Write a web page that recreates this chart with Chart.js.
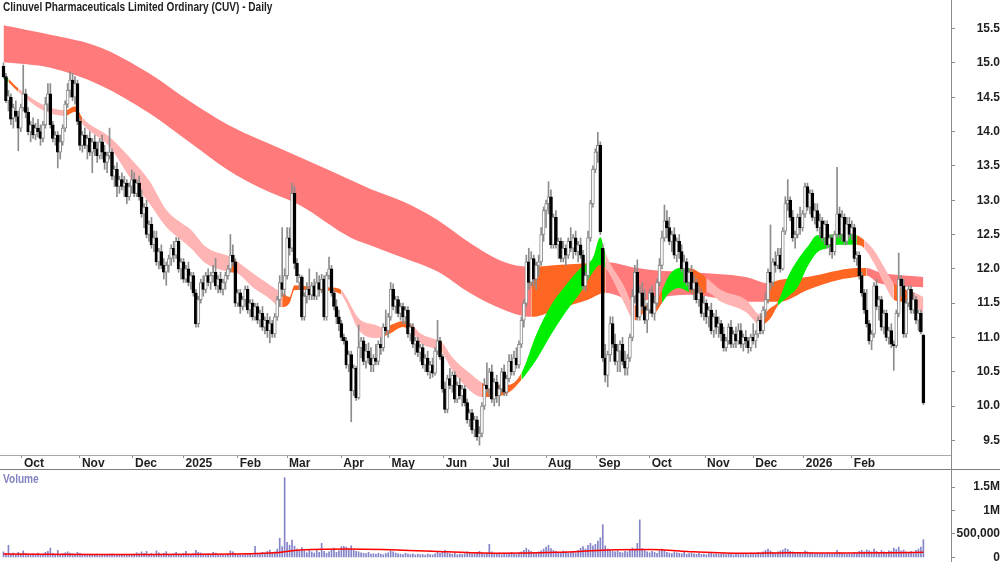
<!DOCTYPE html>
<html>
<head>
<meta charset="utf-8">
<script src="https://cdn.jsdelivr.net/npm/chart.js@4.4.1/dist/chart.umd.min.js"></script>
<style>
html, body { margin: 0; padding: 0; background: #fff; }
#wrap { position: relative; width: 1000px; height: 562px; overflow: hidden; font-family: 'Liberation Sans Narrow', 'Liberation Sans', Arial, sans-serif; }
#priceChart { position: absolute; left: 0; top: 0; }
#volChart { position: absolute; left: 0; top: 470px; }
.title { position: absolute; left: 3px; top: 0; font-size: 12px; line-height: 14px; font-weight: bold; color: #222; white-space: nowrap; transform: scaleX(0.84); transform-origin: 0 0; }
.vlabel { position: absolute; left: 3px; top: 472px; font-size: 12px; line-height: 14px; font-weight: bold; color: #8383c3; transform: scaleX(0.84); transform-origin: 0 0; }
.sep { position: absolute; left: 0; top: 469px; width: 1000px; height: 1px; background: #7d7d7d; }
.axisline { position: absolute; left: 951px; top: 0; width: 1px; height: 562px; background: #8c8c8c; }
</style>
</head>
<body>
<div id="wrap">
  <canvas id="priceChart" width="1000" height="470"></canvas>
  <canvas id="volChart" width="1000" height="92"></canvas>
  <div class="sep"></div>
  <div class="axisline"></div>
  <div class="title">Clinuvel Pharmaceuticals Limited Ordinary (CUV) - Daily</div>
  <div class="vlabel">Volume</div>
</div>
<script>
// daily bars, index 0 = first bar on the left
const opens = [
  14.95,14.80,14.45,14.50,14.20,14.30,14.22,14.05,14.35,14.55,
  14.28,14.00,14.10,13.95,14.05,14.00,13.90,14.10,14.40,14.55,
  14.10,13.90,13.95,13.70,13.85,14.05,14.40,14.60,14.75,14.50,
  14.70,14.15,13.80,13.95,13.80,13.90,13.70,13.85,13.75,13.65,
  13.85,13.70,13.55,13.65,13.70,13.35,13.45,13.20,13.30,13.20,
  13.25,13.05,13.20,13.30,13.10,13.25,13.05,12.80,12.90,12.50,
  12.65,12.35,12.45,12.10,12.25,12.05,11.95,12.05,12.15,12.30,
  12.20,12.40,12.00,12.10,11.85,12.00,11.80,11.90,11.65,11.20,
  11.55,11.80,11.70,11.90,11.80,11.90,11.95,11.75,11.85,11.70,
  11.80,11.90,12.00,12.20,12.10,11.50,11.65,11.45,11.55,11.70,
  11.40,11.50,11.30,11.45,11.25,11.35,11.15,11.25,11.10,11.20,
  11.05,11.30,11.55,11.80,11.70,11.90,12.45,12.30,13.10,12.08,
  11.80,11.88,11.30,11.60,11.70,11.62,11.75,11.60,11.80,11.70,
  11.85,11.30,11.90,12.00,11.65,11.45,11.30,11.20,11.00,10.95,
  10.60,10.75,10.22,10.55,10.12,10.85,10.95,10.65,10.80,10.70,
  10.60,10.70,10.65,10.90,10.85,11.15,11.10,11.30,11.70,11.45,
  11.55,11.35,11.45,11.30,11.40,11.05,11.15,10.90,10.95,10.78,
  10.85,10.60,10.70,10.50,10.60,10.48,10.80,10.95,10.72,10.25,
  9.95,10.40,10.30,10.45,10.10,10.30,10.15,10.25,10.05,9.80,
  9.90,9.65,9.80,9.55,9.60,10.00,10.30,10.25,10.50,10.10,
  10.35,10.15,10.25,10.50,10.20,10.40,10.65,10.50,10.70,10.60,
  10.90,11.25,11.50,12.10,11.80,12.15,11.85,12.05,12.10,12.50,
  12.85,12.95,13.05,12.35,12.75,12.35,12.40,12.15,12.30,12.20,
  12.40,12.30,12.45,12.25,12.35,12.20,11.75,11.90,12.45,12.95,
  13.45,13.70,13.80,12.30,10.70,10.45,10.75,11.20,10.90,10.65,
  10.80,10.90,10.65,10.55,10.70,11.00,11.60,11.95,11.30,11.65,
  11.45,11.25,11.40,11.65,11.35,11.50,11.80,12.05,12.45,12.70,
  12.60,12.40,12.50,12.20,12.40,12.25,12.00,12.10,11.80,11.95,
  11.70,11.80,11.55,11.65,11.35,11.50,11.30,11.40,11.10,11.30,
  11.15,11.20,11.05,10.85,10.95,11.15,10.90,11.05,10.95,11.10,
  10.90,11.00,10.95,10.85,11.00,10.95,11.05,11.25,11.10,11.40,
  11.55,11.95,11.80,12.10,12.05,12.20,12.00,12.55,12.95,13.00,
  12.75,12.45,12.50,12.75,12.60,12.80,13.20,12.90,13.10,12.75,
  12.85,12.60,12.70,12.45,12.65,12.35,12.45,12.25,12.50,12.80,
  12.50,12.75,12.40,12.65,12.50,12.60,12.15,12.20,11.90,11.65,
  11.40,11.20,10.95,11.05,11.75,11.45,11.55,11.15,11.35,11.00,
  11.10,10.90,10.88,11.35,11.85,11.75,11.05,11.50,11.70,11.40,
  11.55,11.25,11.35,11.03
];
const highs = [
  15.00,14.85,14.60,14.55,14.40,14.45,14.30,14.40,14.97,14.62,
  14.35,14.15,14.20,14.12,14.18,14.10,14.15,14.50,14.70,14.70,
  14.15,14.00,14.00,13.95,14.10,14.45,14.70,14.87,14.85,14.80,
  14.75,14.20,14.00,14.05,13.95,14.00,13.90,13.95,13.85,13.90,
  13.95,13.80,13.70,14.05,13.75,13.50,13.55,13.35,13.40,13.35,
  13.30,13.25,13.44,13.40,13.30,13.35,13.15,12.95,13.00,12.70,
  12.75,12.55,12.55,12.30,12.35,12.15,12.10,12.20,12.35,12.40,
  12.46,12.45,12.15,12.15,12.05,12.10,11.95,11.95,11.70,11.60,
  11.85,11.90,11.95,12.00,11.95,12.05,12.15,11.90,11.95,11.85,
  11.95,12.05,12.50,12.35,12.15,11.70,11.70,11.60,11.75,11.75,
  11.55,11.55,11.50,11.50,11.40,11.45,11.30,11.35,11.30,11.25,
  11.35,11.60,11.90,12.60,12.00,12.60,12.60,13.25,13.20,12.15,
  11.92,11.90,11.65,11.80,12.00,11.80,11.85,11.95,11.90,11.92,
  11.90,11.95,12.17,12.05,11.70,11.55,11.40,11.25,11.05,11.00,
  10.80,10.80,10.60,10.58,11.18,11.00,11.00,10.90,10.92,10.85,
  10.75,10.90,10.95,11.00,11.20,11.40,11.35,11.80,11.78,11.60,
  11.60,11.50,11.50,11.45,11.45,11.20,11.20,11.00,11.00,10.90,
  10.90,10.75,10.80,10.65,10.70,10.85,11.25,11.00,10.75,10.35,
  10.45,10.55,10.50,10.50,10.35,10.40,10.30,10.30,10.10,9.95,
  9.95,9.85,9.85,9.70,10.05,10.40,10.63,10.55,10.60,10.40,
  10.45,10.30,10.55,10.60,10.45,10.75,10.75,10.80,10.85,10.95,
  11.30,11.55,12.20,12.30,12.25,12.20,12.10,12.20,12.60,12.90,
  13.00,13.27,13.15,12.80,12.85,12.45,12.45,12.40,12.35,12.45,
  12.60,12.50,12.55,12.40,12.45,12.27,11.95,12.55,13.00,13.50,
  13.75,13.99,13.85,12.35,10.90,10.80,11.30,11.30,11.05,10.90,
  10.95,11.00,10.80,10.75,11.05,11.70,12.05,12.13,11.75,11.80,
  11.70,11.50,11.70,11.75,11.60,11.85,12.15,12.55,12.93,12.85,
  12.75,12.55,12.60,12.45,12.50,12.35,12.20,12.15,12.00,12.05,
  11.90,11.85,11.75,11.70,11.60,11.55,11.45,11.50,11.35,11.40,
  11.30,11.25,11.15,11.00,11.20,11.25,11.10,11.15,11.20,11.20,
  11.05,11.10,11.00,11.05,11.20,11.10,11.30,11.35,11.45,11.65,
  12.00,12.64,12.15,12.25,12.30,12.30,12.60,13.05,13.30,13.05,
  12.85,12.55,12.80,12.90,12.85,13.25,13.25,13.15,13.15,12.95,
  12.95,12.80,12.75,12.70,12.70,12.50,12.50,12.55,13.48,12.90,
  12.85,12.80,12.75,12.75,12.70,12.65,12.25,12.25,11.95,11.70,
  11.70,11.25,11.10,11.80,11.85,11.60,11.60,11.40,11.40,11.15,
  11.20,10.95,11.40,12.23,11.90,11.85,11.55,11.75,11.75,11.65,
  11.60,11.40,11.40,11.05
];
const lows = [
  14.78,14.42,14.30,14.10,14.05,14.15,13.72,14.00,14.30,14.20,
  13.95,13.85,13.90,13.88,13.92,13.80,13.85,14.05,14.30,14.05,
  13.85,13.80,13.47,13.60,13.80,14.00,14.35,14.50,14.45,14.40,
  14.10,13.73,13.70,13.75,13.60,13.65,13.40,13.65,13.55,13.60,
  13.60,13.45,13.40,13.60,13.30,13.20,13.05,13.10,13.15,13.05,
  12.95,13.00,13.10,13.05,13.05,13.00,12.75,12.60,12.45,12.40,
  12.30,12.25,12.05,12.00,12.00,11.85,11.76,11.95,12.05,12.10,
  12.15,11.95,11.85,11.80,11.80,11.75,11.70,11.60,11.15,11.15,
  11.50,11.60,11.65,11.75,11.70,11.80,11.70,11.65,11.65,11.62,
  11.70,11.85,11.95,12.05,11.45,11.45,11.35,11.40,11.45,11.35,
  11.30,11.25,11.25,11.20,11.15,11.10,11.05,11.00,10.92,11.00,
  11.00,11.25,11.45,11.60,11.60,11.85,12.20,12.25,12.00,11.80,
  11.70,11.25,11.25,11.50,11.55,11.55,11.55,11.55,11.60,11.65,
  11.25,11.25,11.85,11.60,11.40,11.20,11.10,10.95,10.90,10.55,
  10.50,9.77,10.15,10.08,10.10,10.70,10.60,10.55,10.62,10.50,
  10.50,10.60,10.60,10.75,10.80,11.05,11.00,11.25,11.40,11.35,
  11.30,11.25,11.20,11.20,11.00,10.95,10.85,10.75,10.72,10.65,
  10.55,10.50,10.45,10.40,10.42,10.45,10.75,10.68,10.20,9.90,
  9.90,10.25,10.20,10.05,10.05,10.10,10.00,10.00,9.75,9.70,
  9.60,9.55,9.50,9.43,9.55,9.95,10.20,10.15,10.05,10.00,
  10.05,10.00,10.20,10.15,10.15,10.35,10.45,10.45,10.55,10.55,
  10.85,11.15,11.45,11.70,11.75,11.75,11.70,11.90,12.05,12.40,
  12.60,12.80,12.30,12.30,12.30,12.15,12.10,12.10,12.05,12.15,
  12.25,12.15,12.20,12.10,12.15,11.70,11.68,11.85,12.40,12.90,
  13.40,13.55,12.50,10.65,10.35,10.28,10.65,10.85,10.60,10.50,
  10.50,10.60,10.45,10.45,10.65,10.95,11.50,11.25,11.25,11.40,
  11.20,11.07,11.35,11.30,11.25,11.45,11.75,12.00,12.40,12.45,
  12.35,12.25,12.15,12.10,12.15,11.95,11.80,11.75,11.70,11.65,
  11.55,11.50,11.45,11.30,11.25,11.20,11.15,11.05,11.00,11.05,
  11.00,10.95,10.80,10.80,10.90,10.85,10.85,10.85,10.90,10.85,
  10.80,10.85,10.77,10.80,10.90,10.85,11.00,11.05,11.05,11.30,
  11.50,11.70,11.75,11.95,12.00,11.95,11.98,12.50,12.85,12.70,
  12.40,12.30,12.45,12.50,12.55,12.75,12.85,12.80,12.70,12.65,
  12.55,12.45,12.40,12.35,12.30,12.20,12.15,12.20,12.45,12.45,
  12.40,12.35,12.35,12.45,12.42,12.10,12.05,11.85,11.60,11.35,
  11.15,10.90,10.82,11.00,11.40,11.25,11.10,11.05,10.95,10.90,
  10.85,10.52,10.85,11.30,11.60,11.00,11.00,11.45,11.35,11.35,
  11.20,11.10,11.05,10.02
];
const closes = [
  14.80,14.45,14.52,14.18,14.35,14.22,14.05,14.35,14.55,14.28,
  14.00,14.10,13.95,14.05,14.00,13.90,14.10,14.40,14.55,14.10,
  13.90,13.95,13.70,13.85,14.05,14.40,14.60,14.75,14.50,14.70,
  14.15,13.80,13.95,13.80,13.90,13.70,13.85,13.75,13.65,13.85,
  13.70,13.55,13.65,13.70,13.35,13.45,13.20,13.30,13.20,13.25,
  13.05,13.20,13.30,13.10,13.25,13.05,12.80,12.90,12.50,12.65,
  12.35,12.45,12.10,12.25,12.05,11.95,12.05,12.15,12.30,12.20,
  12.40,12.00,12.10,11.85,12.00,11.80,11.90,11.65,11.20,11.55,
  11.80,11.70,11.90,11.80,11.90,11.95,11.75,11.85,11.70,11.80,
  11.90,12.00,12.20,12.10,11.50,11.65,11.45,11.55,11.70,11.40,
  11.50,11.30,11.45,11.25,11.35,11.15,11.25,11.10,11.20,11.05,
  11.30,11.55,11.80,11.70,11.90,12.45,12.30,13.10,12.08,11.90,
  11.88,11.30,11.60,11.70,11.62,11.75,11.60,11.80,11.70,11.85,
  11.30,11.90,12.00,11.65,11.45,11.30,11.20,11.00,10.95,10.60,
  10.75,10.22,10.55,10.12,10.85,10.95,10.65,10.80,10.70,10.60,
  10.70,10.65,10.90,10.85,11.15,11.10,11.30,11.70,11.45,11.55,
  11.35,11.45,11.30,11.40,11.05,11.15,10.90,10.95,10.78,10.85,
  10.60,10.70,10.50,10.60,10.48,10.80,10.95,10.72,10.25,9.95,
  10.40,10.30,10.45,10.10,10.30,10.15,10.25,10.05,9.80,9.90,
  9.65,9.80,9.55,9.60,10.00,10.30,10.25,10.50,10.10,10.35,
  10.15,10.25,10.50,10.20,10.40,10.65,10.50,10.70,10.60,10.90,
  11.25,11.50,12.10,11.80,12.15,11.85,12.05,12.10,12.50,12.85,
  12.95,13.05,12.35,12.75,12.35,12.40,12.15,12.30,12.20,12.40,
  12.30,12.45,12.25,12.35,12.20,11.75,11.90,12.45,12.95,13.45,
  13.70,13.80,12.54,10.70,10.45,10.75,11.20,10.90,10.65,10.80,
  10.90,10.65,10.55,10.70,11.00,11.60,11.95,11.30,11.65,11.45,
  11.25,11.40,11.65,11.35,11.50,11.80,12.05,12.45,12.70,12.60,
  12.40,12.50,12.20,12.40,12.25,12.00,12.10,11.80,11.95,11.70,
  11.80,11.55,11.65,11.35,11.50,11.30,11.40,11.10,11.30,11.15,
  11.20,11.05,10.85,10.95,11.15,10.90,11.05,10.95,11.10,10.90,
  11.00,10.95,10.85,11.00,10.95,11.05,11.25,11.10,11.40,11.55,
  11.95,11.80,12.10,12.05,12.20,12.00,12.55,12.95,13.00,12.75,
  12.45,12.50,12.75,12.60,12.80,13.20,12.90,13.10,12.75,12.85,
  12.60,12.70,12.45,12.65,12.35,12.45,12.25,12.50,12.80,12.50,
  12.75,12.40,12.65,12.50,12.60,12.15,12.20,11.90,11.65,11.40,
  11.20,10.95,11.05,11.75,11.45,11.55,11.15,11.35,11.00,11.10,
  10.90,10.88,11.35,11.85,11.75,11.05,11.50,11.70,11.40,11.55,
  11.25,11.35,11.08,10.05
];
// volume in thousands of shares
const volumes = [
  120,85,260,70,95,60,110,75,140,90,
  70,55,80,65,95,60,75,110,130,200,
  90,70,150,60,85,100,120,95,80,70,
  110,90,65,50,70,45,60,55,75,40,
  55,65,50,70,80,60,45,55,65,50,
  45,60,55,70,100,80,120,90,130,75,
  85,60,140,100,70,90,125,60,55,80,
  110,75,65,90,130,70,60,85,150,110,
  95,70,60,80,65,110,95,55,70,60,
  55,75,140,120,90,70,60,55,80,65,
  70,60,240,85,75,110,90,130,160,100,
  120,180,410,230,1700,320,260,370,240,180,
  150,210,140,100,170,120,95,150,110,300,
  130,90,120,160,200,110,140,230,240,220,
  180,250,160,130,120,100,90,85,110,70,
  80,65,90,70,60,85,100,140,120,95,
  80,70,60,90,75,65,80,55,70,60,
  65,50,75,60,55,80,130,90,110,150,
  100,85,70,95,60,75,65,80,120,90,
  70,85,110,130,100,75,90,280,120,80,
  70,95,60,85,75,90,110,80,65,100,
  120,150,200,160,130,110,95,120,140,180,
  220,260,190,150,130,110,100,140,120,90,
  110,130,100,150,200,230,180,260,300,250,
  280,350,420,700,250,180,150,130,120,140,
  110,100,130,120,160,200,180,300,800,190,
  150,120,100,130,110,90,140,180,150,110,
  95,85,120,100,90,80,110,70,85,95,
  80,70,90,65,75,60,85,100,70,80,
  65,75,90,60,70,85,55,65,80,60,
  70,85,60,95,75,80,110,90,120,150,
  180,140,110,95,120,140,160,190,170,130,
  120,100,90,110,85,140,120,100,95,80,
  90,75,85,70,95,80,70,90,150,110,
  95,80,70,85,75,110,90,130,150,120,
  160,140,120,180,130,110,150,120,100,140,
  130,200,170,220,140,160,120,110,130,100,
  150,180,220,380
];
const volAvgIdx = [0, 40, 100, 110, 118, 140, 160, 180, 200, 225, 245, 262, 280, 300, 320, 340, 360, 373];
const volAvg    = [75, 65, 80, 100, 150, 180, 160, 120, 90, 110, 160, 170, 120, 90, 100, 95, 100, 110];

// long-term moving average ribbon (upper / lower edge)
const longIdx   = [0, 19, 39, 59, 76, 91, 104, 120, 141, 149, 162, 176, 189, 203, 214, 226, 237, 244, 257, 264, 278, 301, 310, 315, 326, 339, 346, 350, 355, 373];
const longTop   = [15.55, 15.41, 15.23, 14.85, 14.43, 14.10, 13.88, 13.63, 13.29, 13.16, 12.98, 12.71, 12.38, 12.10, 12.03, 12.06, 12.08, 12.10, 12.01, 11.98, 11.95, 11.88, 11.79, 11.84, 11.88, 11.98, 12.01, 12.01, 11.95, 11.88];
const longBot   = [15.01, 14.93, 14.68, 14.27, 13.83, 13.44, 13.18, 12.93, 12.45, 12.34, 12.16, 11.96, 11.65, 11.40, 11.30, 11.43, 11.55, 11.65, 11.52, 11.57, 11.62, 11.52, 11.52, 11.52, 11.69, 11.84, 11.88, 11.90, 11.79, 11.73];
const longTrend = ['down','down','down','down','down','down','down','down','down','down','down','down','down','down','flat','flat','flat','down','down','down','down','down','flat','flat','flat','flat','flat','down','down','down'];

// short-term moving average ribbon
const shortIdx = [0, 2, 6, 16, 25, 29, 32, 43, 52, 59, 66, 72, 76, 82, 92, 95, 101, 107, 113, 116,
  118, 122, 130, 135, 137, 139, 144, 151, 154, 157, 162, 166, 169, 176, 178, 182, 189, 194, 196, 205,
  210, 216, 222, 228, 234, 239, 242, 244, 246, 251, 256, 260, 264, 267, 270, 274, 278, 282, 285, 291,
  301, 307, 311, 314, 318, 322, 326, 330, 334, 339, 346, 349, 353, 357, 361, 364, 369, 373];
const shortTop = [14.83, 14.77, 14.63, 14.39, 14.31, 14.37, 14.20, 13.92, 13.59, 13.29, 12.86, 12.67, 12.57, 12.32, 12.17, 12.10, 11.94, 11.79, 11.65, 11.59,
  11.76, 11.75, 11.73, 11.72, 11.69, 11.59, 11.28, 11.18, 11.14, 11.18, 11.24, 11.17, 11.06, 10.96, 10.92, 10.71, 10.48, 10.34, 10.31, 10.31,
  10.48, 11.04, 11.47, 11.76, 12.01, 12.16, 12.46, 12.24, 12.08, 11.79, 11.47, 11.47, 11.50, 11.69, 11.91, 12.01, 12.01, 11.95, 11.87, 11.69,
  11.55, 11.33, 11.43, 11.52, 11.88, 12.13, 12.32, 12.49, 12.49, 12.52, 12.49, 12.42, 12.27, 12.03, 11.79, 11.72, 11.66, 11.59];
const shortBot = [14.77, 14.72, 14.58, 14.31, 14.23, 14.29, 14.11, 13.78, 13.29, 12.96, 12.61, 12.42, 12.30, 12.08, 11.95, 11.93, 11.73, 11.59, 11.44, 11.50,
  11.69, 11.69, 11.68, 11.66, 11.62, 11.50, 11.11, 10.99, 11.01, 11.06, 11.15, 11.06, 10.92, 10.82, 10.77, 10.52, 10.23, 10.13, 10.13, 10.20,
  10.38, 10.67, 11.04, 11.37, 11.66, 11.95, 12.06, 12.01, 11.91, 11.55, 11.25, 11.36, 11.36, 11.50, 11.65, 11.72, 11.66, 11.62, 11.66, 11.52,
  11.37, 11.18, 11.28, 11.46, 11.59, 11.73, 12.03, 12.24, 12.30, 12.35, 12.35, 12.30, 12.08, 11.79, 11.55, 11.52, 11.47, 11.35];
const shortTrend = ['up','flat','down','down','flat','flat','down','down','down','down','down','down','down','down','flat','down','down','down','flat','flat',
  'flat','flat','flat','flat','down','down','down','down','flat','flat','flat','down','down','flat','down','down','down','flat','flat','flat',
  'up','up','up','up','up','up','up','down','down','down','flat','flat','flat','up','up','up','flat','flat','down','down',
  'down','flat','flat','up','up','up','up','up','up','up','flat','down','down','down','flat','flat','down','down'];

// axis labels
const monthTicks  = [7.5, 31, 52.5, 73, 95, 115, 137, 156.5, 178.5, 197.5, 220, 240.5, 262, 284.5, 304, 324.5, 344];
const monthLabels = ['Oct','Nov','Dec','2025','Feb','Mar','Apr','May','Jun','Jul','Aug','Sep','Oct','Nov','Dec','2026','Feb'];
const priceTicks  = [9.5, 10, 10.5, 11, 11.5, 12, 12.5, 13, 13.5, 14, 14.5, 15, 15.5];
const volTicks    = [0, 500, 1000, 1500];
const volLabels   = ['0', '500,000', '1M', '1.5M'];

const FONT = "'Liberation Sans Narrow', 'Liberation Sans', Arial, sans-serif";
const longColors  = { down: 'rgb(255,122,122)', flat: 'rgb(255,102,34)', up: 'rgb(0,238,0)' };
const shortColors = { down: 'rgb(255,180,180)', flat: 'rgb(255,102,34)', up: 'rgb(0,238,0)' };
const X_MIN = -1.42, X_MAX = 384.2;

function noPad(s) { s.paddingTop = 0; s.paddingBottom = 0; s.paddingLeft = 0; s.paddingRight = 0; }

function ribbon(idx, top, bot, trend, colors, order) {
  const common = {
    type: 'line', pointRadius: 0, borderWidth: 0, borderColor: 'rgba(0,0,0,0)',
    cubicInterpolationMode: 'monotone',
    segment: { backgroundColor: c => colors[trend[c.p0DataIndex]] }
  };
  return [
    { ...common, order, data: idx.map((x, k) => ({ x, y: top[k] })), fill: '+1', backgroundColor: colors.down },
    { ...common, order: order + 1, data: idx.map((x, k) => ({ x, y: bot[k] })), fill: false }
  ];
}

const up = closes.map((c, i) => c >= opens[i]);
const bodies = closes.map((c, i) => ({ x: i, y: [opens[i], c] }));
const wicks = closes.map((c, i) => ({ x: i, y: [lows[i], highs[i]] }));

new Chart(document.getElementById('priceChart'), {
  type: 'bar',
  data: {
    datasets: [
      { type: 'bar', data: bodies, order: 0, grouped: false, barThickness: 3, borderWidth: 1, borderSkipped: false,
        backgroundColor: c => up[c.dataIndex] ? '#ffffff' : '#000000',
        borderColor: c => up[c.dataIndex] ? '#8c8c8c' : '#000000' },
      { type: 'bar', data: wicks, order: 1, grouped: false, barThickness: 1, backgroundColor: '#8c8c8c' },
      ...ribbon(shortIdx, shortTop, shortBot, shortTrend, shortColors, 2),
      ...ribbon(longIdx, longTop, longBot, longTrend, longColors, 4)
    ]
  },
  options: {
    responsive: false, animation: false, events: [],
    layout: { padding: 0 },
    plugins: { legend: { display: false }, tooltip: { enabled: false } },
    scales: {
      x: {
        type: 'linear', position: 'bottom', min: X_MIN, max: X_MAX, offset: false,
        afterBuildTicks: s => { s.ticks = monthTicks.map(v => ({ value: v })); },
        afterFit: s => { s.height = 15; noPad(s); },
        grid: { offset: false, drawOnChartArea: false, tickLength: 3, color: '#8c8c8c' },
        border: { display: true, color: '#a8a8a8' },
        ticks: { autoSkip: false, maxRotation: 0, align: 'start', labelOffset: 2, padding: 0,
          font: { family: FONT, size: 12, weight: 'bold', lineHeight: 0.9 }, color: '#1e1e1e',
          callback: (v, i) => monthLabels[i] }
      },
      y: {
        position: 'right', min: 9.286, max: 15.918,
        afterBuildTicks: s => { s.ticks = priceTicks.map(v => ({ value: v })); },
        afterFit: s => { s.width = 49; noPad(s); },
        grid: { drawOnChartArea: false, tickLength: 4, color: '#8c8c8c' },
        border: { display: false },
        ticks: { crossAlign: 'far', padding: 22,
          font: { family: FONT, size: 12, weight: 'bold' }, color: '#1e1e1e',
          callback: v => v.toFixed(1) }
      }
    }
  }
});

new Chart(document.getElementById('volChart'), {
  type: 'bar',
  data: {
    datasets: [
      { type: 'line', data: volAvgIdx.map((x, k) => ({ x, y: volAvg[k] })), order: 0,
        borderColor: '#ff0000', borderWidth: 1.5, pointRadius: 0, cubicInterpolationMode: 'monotone', fill: false },
      { type: 'bar', data: volumes.map((v, i) => ({ x: i, y: v })), order: 1, grouped: false,
        barThickness: 1, backgroundColor: '#8484c8' }
    ]
  },
  options: {
    responsive: false, animation: false, events: [],
    layout: { padding: 0 },
    plugins: { legend: { display: false }, tooltip: { enabled: false } },
    scales: {
      x: { type: 'linear', min: X_MIN, max: X_MAX, offset: false, display: false },
      y: {
        position: 'right', min: -96, max: 1862,
        afterBuildTicks: s => { s.ticks = volTicks.map(v => ({ value: v })); },
        afterFit: s => { s.width = 49; noPad(s); },
        grid: { drawOnChartArea: false, tickLength: 4, color: '#8c8c8c' },
        border: { display: false },
        ticks: { crossAlign: 'far', padding: 4,
          font: { family: FONT, size: 12, weight: 'bold' }, color: '#1e1e1e',
          callback: (v, i) => volLabels[i] }
      }
    }
  }
});
</script>
</body>
</html>
